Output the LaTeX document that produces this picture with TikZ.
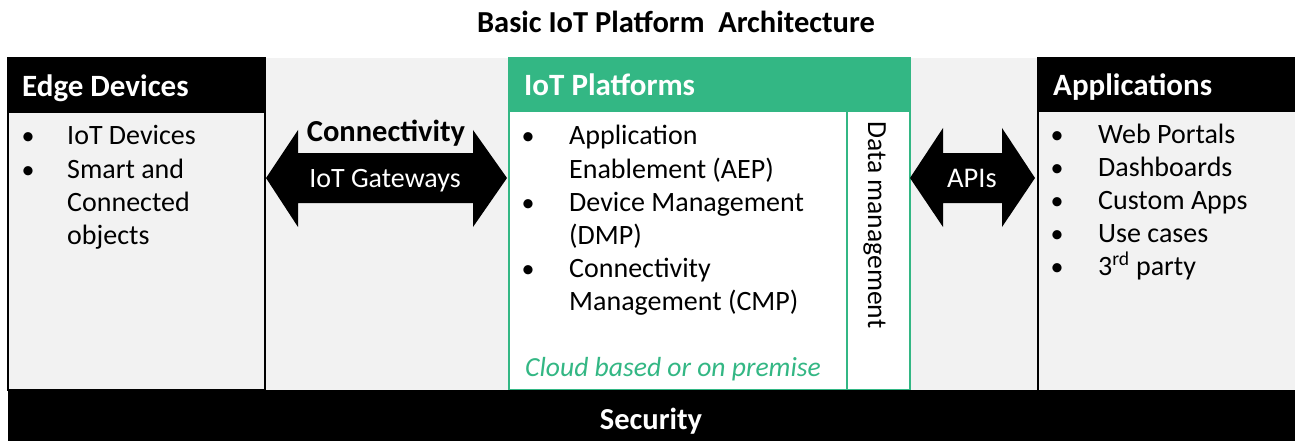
\documentclass[tikz,border=0pt]{standalone}
\usepackage{fontspec}
\setmainfont{Carlito}
\definecolor{iotgreen}{HTML}{33B784}
\definecolor{panel}{HTML}{F2F2F2}
\begin{document}
\begin{tikzpicture}[x=1pt,y=-1pt,
  txt/.style={font=\fontsize{28}{33}\selectfont, inner sep=0pt, anchor=base west},
  bul/.style={font=\fontsize{26}{33}\selectfont, inner sep=0pt, anchor=base},
  hdr/.style={font=\bfseries\fontsize{31}{33}\selectfont, text=white, inner sep=0pt, anchor=base west},
  blockarrow/.style={fill=black},
  boxline/.style={line width=1.5pt}]
\useasboundingbox (0,0) rectangle (1295,441);
% background panel
\fill[panel] (8,58) rectangle (1295,390);
% title
\node[font=\bfseries\fontsize{30.5}{33}\selectfont, inner sep=0pt, anchor=base] (title) at (676,33) {Basic IoT Platform\ \ Architecture};
% Edge devices box
\fill[black] (8,58) rectangle (265,113);
\draw[boxline] (8,58) rectangle (265,390);
\node[hdr] (edgeh) at (22,97) {Edge\ Devices};
\node[bul] (eb1) at (28,145) {•};
\node[bul] (eb2) at (28,178) {•};
\node[txt] (e1) at (67,145) {IoT Devices};
\node[txt] (e2) at (67,178) {Smart and};
\node[txt] (e3) at (67,211) {Connected};
\node[txt] (e4) at (67,244) {objects};
% IoT platforms box
\fill[white] (509,112) rectangle (910,390);
\fill[iotgreen] (509,58) rectangle (910,112);
\draw[iotgreen,boxline] (509,58) rectangle (910,390);
\draw[iotgreen,boxline] (847,112) -- (847,390);
\node[hdr] (plath) at (524,96) {IoT Platforms};
\node[bul] (pb1) at (528,145) {•};
\node[bul] (pb2) at (528,211) {•};
\node[bul] (pb3) at (528,277) {•};
\node[txt] (p1) at (569,145) {Application};
\node[txt] (p2) at (569,178) {Enablement (AEP)};
\node[txt] (p3) at (569,211) {Device Management};
\node[txt] (p4) at (569,244) {(DMP)};
\node[txt] (p5) at (569,277) {Connectivity};
\node[txt] (p6) at (569,310) {Management (CMP)};
\node[txt, font=\itshape\fontsize{27.6}{33}\selectfont, text=iotgreen] (cloud) at (525,376) {Cloud based or on premise};
\node[txt, font=\fontsize{27.6}{33}\selectfont, rotate=-90] (datam) at (868,121) {Data management};
% Applications box
\fill[black] (1038,58) rectangle (1300,112);
\draw[boxline] (1038,390) -- (1038,58) -- (1300,58);
\node[hdr] (apph) at (1053,96) {Applications};
\node[bul] (ab1) at (1057,143) {•};
\node[bul] (ab2) at (1057,176) {•};
\node[bul] (ab3) at (1057,209) {•};
\node[bul] (ab4) at (1057,242) {•};
\node[bul] (ab5) at (1057,275) {•};
\node[txt] (a1) at (1098,143) {Web Portals};
\node[txt] (a2) at (1098,176) {Dashboards};
\node[txt] (a3) at (1098,209) {Custom Apps};
\node[txt] (a4) at (1098,242) {Use cases};
\node[txt] (a5) at (1098,275) {3\textsuperscript{rd} party};
% Connectivity arrow
\fill[blockarrow] (266,178) -- (298,130) -- (298,153) -- (473,153) -- (473,130) -- (507,178)
  -- (473,227) -- (473,203) -- (298,203) -- (298,227) -- cycle;
\node[font=\bfseries\fontsize{30.5}{33}\selectfont, inner sep=0pt, anchor=base] (conn) at (386,142) {Connectivity};
\node[font=\fontsize{28}{33}\selectfont, text=white, inner sep=0pt, anchor=base] (gw) at (385,187) {IoT Gateways};
% APIs arrow
\fill[blockarrow] (910,178) -- (943,128) -- (943,153) -- (1002,153) -- (1002,128) -- (1035,178)
  -- (1002,227) -- (1002,203) -- (943,203) -- (943,227) -- cycle;
\node[font=\fontsize{28.5}{33}\selectfont, text=white, inner sep=0pt, anchor=base] (apis) at (972,187) {APIs};
% Security bar
\fill[black] (8,390) rectangle (1295,441);
\node[font=\bfseries\fontsize{30.5}{33}\selectfont, text=white, inner sep=0pt, anchor=base] (sec) at (651,429) {Security};
\end{tikzpicture}
\end{document}
